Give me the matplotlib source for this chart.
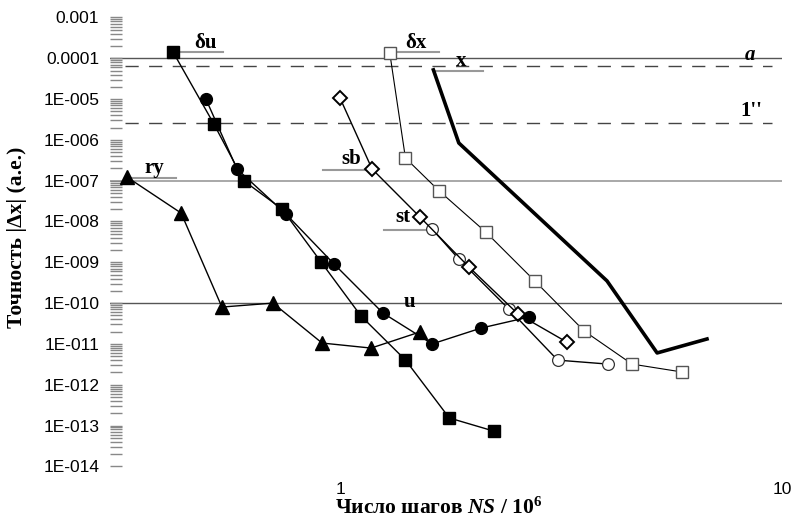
import matplotlib
matplotlib.use("Agg")
import matplotlib.pyplot as plt
from matplotlib.ticker import FixedLocator, FixedFormatter, LogLocator, NullFormatter

plt.rcParams['mathtext.fontset'] = 'custom'
plt.rcParams['mathtext.rm'] = 'Liberation Serif:bold'
plt.rcParams['mathtext.it'] = 'Liberation Serif:bold:italic'
plt.rcParams['mathtext.bf'] = 'Liberation Serif:bold'

# data
# filled squares  (delta u)
du_x = [0.416, 0.515, 0.603, 0.735, 0.901, 1.11, 1.40, 1.76, 2.22]
du_y = [1.43e-4, 2.45e-6, 9.8e-8, 2.02e-8, 1.02e-9, 4.83e-11, 4.03e-12, 1.53e-13, 7.3e-14]
# filled circles  (u)
u_x = [0.494, 0.581, 0.750, 0.964, 1.245, 1.61, 2.08, 2.67]
u_y = [1.0e-5, 1.94e-7, 1.53e-8, 9.1e-10, 5.7e-11, 1.0e-11, 2.45e-11, 4.56e-11]
# filled triangles (ry)
ry_x = [0.327, 0.434, 0.537, 0.701, 0.906, 1.17, 1.51]
ry_y = [1.23e-7, 1.61e-8, 8.0e-11, 1.0e-10, 1.05e-11, 7.9e-12, 1.96e-11]
# open diamonds (sb)
sb_x = [0.995, 1.176, 1.51, 1.95, 2.52, 3.25]
sb_y = [1.06e-5, 1.94e-7, 1.29e-8, 7.7e-10, 5.4e-11, 1.11e-11]
# open circles (st)
st_x = [1.61, 1.85, 2.40, 3.10, 4.03]
st_y = [6.5e-9, 1.2e-9, 7.2e-11, 4.0e-12, 3.2e-12]
# open squares (delta x)
dx_x = [1.29, 1.40, 1.67, 2.13, 2.75, 3.56, 4.57, 5.93]
dx_y = [1.35e-4, 3.6e-7, 5.6e-8, 5.5e-9, 3.5e-10, 2.07e-11, 3.2e-12, 2.05e-12]
# thick line (x)
x_x = [1.62, 1.85, 4.01, 5.21, 6.76]
x_y = [5.2e-5, 8.4e-7, 3.5e-10, 6.0e-12, 1.32e-11]

solid_levels = [1e-4, 1e-7, 1e-10]
solid_colors = ['#555555', '#999999', '#555555']
dashed_levels = [6.3e-5, 2.6e-6]

ytick_vals = [1e-3, 1e-4, 1e-5, 1e-6, 1e-7, 1e-8, 1e-9, 1e-10, 1e-11, 1e-12, 1e-13, 1e-14]
ytick_labels = ['0.001', '0.0001', '1E-005', '1E-006', '1E-007', '1E-008', '1E-009',
                '1E-010', '1E-011', '1E-012', '1E-013', '1E-014']
xtick_vals = [1, 10]
xtick_labels = ['1', '10']

fig = plt.figure(figsize=(7.95, 5.26), dpi=100)
ax = fig.add_axes([110.4/795, 1-466.3/526, 671.6/795, 448.8/526])
ax.set_xscale('log')
ax.set_yscale('log')
ax.set_xlim(0.3, 10)
ax.set_ylim(1e-14, 1e-3)

for lev, c in zip(solid_levels, solid_colors):
    ax.axhline(lev, xmin=0.0, xmax=1.0, color=c, lw=1.2 if c == '#999999' else 1.0, zorder=1)
for lev in dashed_levels:
    ax.axhline(lev, xmin=0.022, xmax=0.985, color='#444444', lw=1.0, dashes=(9.5, 7.5), zorder=1)

ax.plot(x_x, x_y, color='black', lw=2.6, zorder=3)
ax.plot(dx_x, dx_y, color='black', lw=0.8, marker='s', ms=8, mfc='white', mec='#555555', mew=1.0, zorder=4)
ax.plot(st_x, st_y, color='black', lw=1.0, marker='o', ms=8.5, mfc='white', mec='#333333', mew=0.9, zorder=4)
ax.plot(sb_x, sb_y, color='black', lw=1.0, marker='D', ms=7.5, mfc='white', mec='black', mew=1.4, zorder=5)
ax.plot(ry_x, ry_y, color='black', lw=1.0, marker='^', ms=10, mfc='black', mec='black', zorder=5)
ax.plot(u_x, u_y, color='black', lw=1.0, marker='o', ms=8.5, mfc='black', mec='black', zorder=5)
ax.plot(du_x, du_y, color='black', lw=1.0, marker='s', ms=8.5, mfc='black', mec='black', zorder=6)

# series labels with short leader lines (axes fractions)
lab = dict(fontfamily='Liberation Serif', fontweight='bold', fontsize=15,
           ha='center', va='center', transform=ax.transAxes, zorder=7)
ax.text(0.142, 0.943, 'δu', **lab)
ax.text(0.065, 0.665, 'ry', **lab)
ax.text(0.455, 0.943, 'δx', **lab)
ax.text(0.522, 0.903, 'x', **lab)
ax.text(0.358, 0.685, 'sb', **lab)
ax.text(0.436, 0.555, 'st', **lab)
ax.text(0.445, 0.366, 'u', **lab)
ax.text(0.952, 0.916, 'a', style='italic', **lab)
ax.text(0.954, 0.791, "1''", **lab)

leaders = [(0.104, 0.167, 0.923), (0.022, 0.098, 0.642), (0.419, 0.489, 0.923),
           (0.483, 0.555, 0.880), (0.316, 0.387, 0.660), (0.407, 0.471, 0.526)]
for x0, x1, yy in leaders:
    ax.plot([x0, x1], [yy, yy], color='#999999', lw=1.5, transform=ax.transAxes, zorder=2)

for s in ax.spines.values():
    s.set_visible(False)

ax.yaxis.set_major_locator(FixedLocator(ytick_vals))
ax.yaxis.set_major_formatter(FixedFormatter(ytick_labels))
ax.yaxis.set_minor_locator(LogLocator(base=10, subs=range(2, 10), numticks=20))
ax.yaxis.set_minor_formatter(NullFormatter())
ax.tick_params(axis='y', which='both', direction='in', length=8.5, width=1, color='#888888',
               pad=8, labelsize=12.5)
ax.xaxis.set_major_locator(FixedLocator(xtick_vals))
ax.xaxis.set_major_formatter(FixedFormatter(xtick_labels))
ax.xaxis.set_minor_locator(FixedLocator([]))
ax.tick_params(axis='x', which='both', length=0, pad=11, labelsize=12.5)
for t in ax.get_xticklabels() + ax.get_yticklabels():
    t.set_fontfamily('Liberation Sans')

ax.set_xlabel('Число шагов $NS$ / 10$^{6}$', fontfamily='Liberation Serif',
              fontweight='bold', fontsize=15.5)
ax.xaxis.set_label_coords(0.489, -0.07)
ax.set_ylabel('Точность |Δx| (а.е.)', fontfamily='Liberation Serif',
              fontweight='bold', fontsize=15.5)
ax.yaxis.set_label_coords(-0.124, 0.51)

fig.savefig('out.png', dpi=100)
